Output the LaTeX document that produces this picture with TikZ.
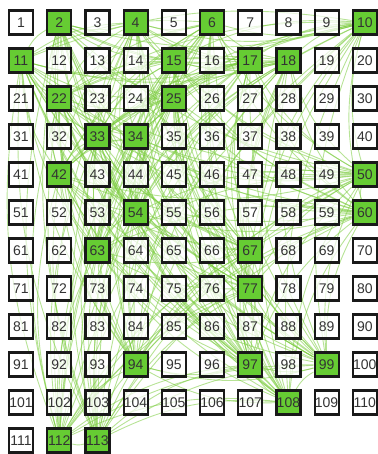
\documentclass[tikz,border=0pt]{standalone}
\usepackage{fontspec}
\setmainfont{Liberation Sans}
\usetikzlibrary{backgrounds}
\definecolor{cell}{HTML}{66CC33}
\definecolor{link}{HTML}{7CCC40}
\tikzset{
  every node/.style={font=\fontsize{14}{16}\selectfont},
  box/.style={draw=black!90, line width=2.2pt, fill=white, fill opacity=0.7, text opacity=1,
    minimum width=24pt, minimum height=24pt, inner sep=0pt, text=black!80},
  hit/.style={box, fill=cell, fill opacity=1},
  link/.style={draw=link, line width=0.9pt, opacity=0.55},
}
\newcommand{\hitlist}{2,4,6,10,11,15,17,18,22,25,33,34,42,50,54,60,63,67,77,94,97,99,108,112,113}

\begin{document}
\begin{tikzpicture}[x=1pt, y=-1pt]
\useasboundingbox (0,0) rectangle (377,454);

% grid of cells
\foreach \i in {1,...,113} {
  \pgfmathtruncatemacro\row{div(\i-1,10)}
  \pgfmathtruncatemacro\col{mod(\i-1,10)}
  \node[box] (n\i) at (21+38.2*\col, 22.5+38*\row) {\i};
}
% highlighted cells
\foreach \i in \hitlist {
  \node[hit] at (n\i) {\i};
}

% links between highlighted cells
\begin{scope}[on background layer]
\foreach \a [count=\p] in \hitlist {
  \foreach \b [count=\q] in \hitlist {
    \ifnum\q>\p
      \draw[link] (n\a) to[bend right=15] (n\b);
    \fi
  }
}
\end{scope}

\end{tikzpicture}
\end{document}
